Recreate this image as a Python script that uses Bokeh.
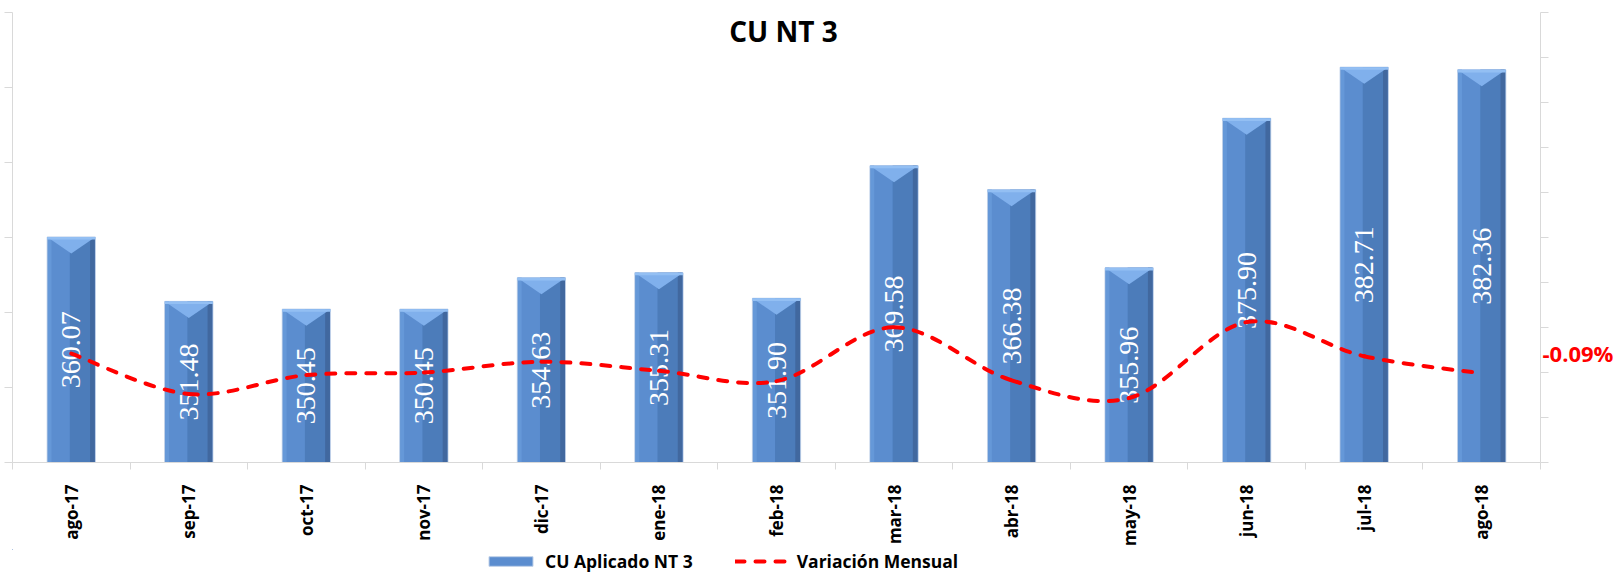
import math
from bokeh.plotting import figure
from bokeh.layouts import column
from bokeh.models import Range1d, LinearAxis, FixedTicker, Legend, LegendItem, Label
from bokeh.core.properties import value
from bokeh.embed import file_html
from bokeh.resources import INLINE

# ---------------- data ----------------
months = ["ago-17", "sep-17", "oct-17", "nov-17", "dic-17", "ene-18", "feb-18",
          "mar-18", "abr-18", "may-18", "jun-18", "jul-18", "ago-18"]
cu_nt3 = [360.07, 351.48, 350.45, 350.45, 354.63, 355.31, 351.90,
          369.58, 366.38, 355.96, 375.90, 382.71, 382.36]
bar_labels = ["360.07", "351.48", "350.45", "350.45", "354.63", "355.31", "351.90",
              "369.58", "366.38", "355.96", "375.90", "382.71", "382.36"]
variacion = [2.1, -2.39, -0.29, 0.00, 1.19, 0.19, -0.96,
             5.02, -0.87, -2.84, 5.60, 1.81, -0.09]   # percent
last_label = "-0.09%"
left_ticks = [330, 340, 350, 360, 370, 380, 390]
right_ticks = [-10, -5, 0, 5, 10, 15, 20, 25, 30, 35, 40]
title_text = "CU NT 3"
bar_name = "CU Aplicado NT 3"
line_name = "Variación Mensual"

Y_MIN, Y_MAX = left_ticks[0], left_ticks[-1]
P_MIN, P_MAX = right_ticks[0], right_ticks[-1]

AXIS_COL = "#d9d9d9"
FONT = "Open Sans"
BAR_FILL = "#5b8dcf"
BAR_EDGE = "#bfd0e8"
LINE_COL = "#ff0000"
MAIN_H, LEG_H = 549, 24
BORDER_B = 82
FRAME_H = MAIN_H - 12 - BORDER_B

xs = list(range(len(months)))

p = figure(width=1617, height=MAIN_H, x_range=Range1d(-0.5, len(months) - 0.5),
           y_range=Range1d(Y_MIN, Y_MAX), output_backend="svg", toolbar_location=None,
           min_border_left=12, min_border_top=12, min_border_right=77,
           min_border_bottom=BORDER_B)
p.extra_y_ranges = {"pct": Range1d(P_MIN, P_MAX)}
p.outline_line_color = None
p.xgrid.visible = False
p.ygrid.visible = False
p.background_fill_color = "white"
p.border_fill_color = "white"

# x axis
xa = p.xaxis[0]
xa.ticker = FixedTicker(ticks=xs, minor_ticks=[i - 0.5 for i in range(len(months) + 1)])
xa.major_label_overrides = {i: m for i, m in enumerate(months)}
xa.major_label_orientation = math.pi / 2
xa.major_tick_out = 0
xa.major_tick_in = 0
xa.minor_tick_out = 7
xa.minor_tick_in = 0
xa.minor_tick_line_color = AXIS_COL
xa.axis_line_color = AXIS_COL
xa.major_label_standoff = 15
xa.major_label_text_font = FONT
xa.major_label_text_font_style = "bold"
xa.major_label_text_font_size = "17px"
xa.major_label_text_color = "black"

# left axis (no labels)
ya = p.yaxis[0]
ya.ticker = FixedTicker(ticks=left_ticks)
ya.major_label_overrides = {t: "" for t in left_ticks}
ya.major_label_standoff = 0
ya.major_tick_out = 8
ya.major_tick_in = 0
ya.minor_tick_out = 0
ya.minor_tick_in = 0
ya.major_tick_line_color = AXIS_COL
ya.axis_line_color = AXIS_COL

# right axis: gray tick marks + the data label of the last point of the line
label_pos = variacion[-1] + 21 * (P_MAX - P_MIN) / FRAME_H
ra = LinearAxis(y_range_name="pct", ticker=FixedTicker(ticks=[label_pos], minor_ticks=right_ticks))
ra.major_label_overrides = {label_pos: last_label}
ra.major_label_standoff = -6
ra.major_tick_out = 0
ra.major_tick_in = 0
ra.minor_tick_out = 8
ra.minor_tick_in = 0
ra.minor_tick_line_color = AXIS_COL
ra.axis_line_color = AXIS_COL
ra.major_label_text_font = FONT
ra.major_label_text_font_style = "bold"
ra.major_label_text_font_size = "22px"
ra.major_label_text_color = LINE_COL
p.add_layout(ra, "right")

# ---------------- bars ----------------
W = 0.41
p.vbar(x=xs, top=cu_nt3, bottom=Y_MIN, width=W,
       fill_color=BAR_FILL, line_color=BAR_EDGE, line_width=1)
p.vbar(x=[x + W * 0.22 for x in xs], top=cu_nt3, bottom=Y_MIN, width=W * 0.5,
       fill_color="#4c7cba", line_color=None)
p.vbar(x=[x + W * 0.44 for x in xs], top=cu_nt3, bottom=Y_MIN, width=W * 0.1,
       fill_color="#41689f", line_color=None)
p.vbar(x=[x - W * 0.45 for x in xs], top=cu_nt3, bottom=Y_MIN, width=W * 0.08,
       fill_color="#6598d8", line_color=None)
# top bevel (V shape)
depth = 2.2
tri_xs = [[x - W / 2, x + W / 2, x] for x in xs]
tri_ys = [[v, v, v - depth] for v in cu_nt3]
p.patches(tri_xs, tri_ys, fill_color="#80b0ec", line_color=None)
p.vbar(x=xs, top=cu_nt3, bottom=[v - 0.35 for v in cu_nt3], width=W,
       fill_color="#93bff3", line_color=None)

# value labels inside bars
p.text(x=xs, y=[(Y_MIN + v) / 2 for v in cu_nt3], text=bar_labels, angle=math.pi / 2,
       text_align="center", text_baseline="middle", text_color="white",
       text_font=value("Liberation Sans Narrow"), text_font_size="28px")

# ---------------- smoothed line ----------------
n = len(variacion)
x0, y0, x1, y1, cx0, cy0, cx1, cy1 = [], [], [], [], [], [], [], []
for i in range(n - 1):
    a = max(i - 1, 0)
    b = min(i + 2, n - 1)
    x0.append(xs[i]); y0.append(variacion[i])
    x1.append(xs[i + 1]); y1.append(variacion[i + 1])
    cx0.append(xs[i] + (xs[i + 1] - xs[a]) / 6)
    cy0.append(variacion[i] + (variacion[i + 1] - variacion[a]) / 6)
    cx1.append(xs[i + 1] - (xs[b] - xs[i]) / 6)
    cy1.append(variacion[i + 1] - (variacion[b] - variacion[i]) / 6)
p.bezier(x0=x0, y0=y0, x1=x1, y1=y1, cx0=cx0, cy0=cy0, cx1=cx1, cy1=cy1,
         line_color=LINE_COL, line_width=4, line_dash="9 11", line_cap="round",
         y_range_name="pct")

# title
p.add_layout(Label(x=(xs[0] + xs[-1]) / 2, y=FRAME_H - 23, y_units="screen", x_offset=7,
                   text=title_text, text_font=FONT, text_font_style="bold",
                   text_font_size="28px", text_align="center", text_baseline="middle",
                   text_color="black"))

# ---------------- legend strip ----------------
# same series drawn out of view, only so that the legend has its glyphs
lg = figure(width=1617, height=LEG_H, x_range=Range1d(100, 101), y_range=Range1d(0, 1),
            x_axis_type=None, y_axis_type=None, output_backend="svg", toolbar_location=None,
            min_border=0)
lg.outline_line_color = None
lg.xgrid.visible = False
lg.ygrid.visible = False
lg.background_fill_color = "white"
lg.border_fill_color = "white"
leg_bar = lg.vbar(x=xs, top=cu_nt3, bottom=Y_MIN, width=W, fill_color=BAR_FILL,
                  line_color=BAR_EDGE)
leg_line = lg.line(x=xs, y=variacion, line_color=LINE_COL, line_width=4, line_dash="9 11",
                   line_cap="round")
legend = Legend(items=[LegendItem(label=bar_name, renderers=[leg_bar]),
                       LegendItem(label=line_name, renderers=[leg_line])],
                orientation="horizontal", location=(471, 0),
                border_line_color=None, background_fill_alpha=0,
                glyph_width=55, glyph_height=12, label_standoff=7, spacing=42,
                padding=0, margin=0,
                label_text_font=FONT, label_text_font_style="bold",
                label_text_font_size="17.5px", label_text_color="black")
lg.add_layout(legend)

open("out.html", "w").write(file_html(column(p, lg), INLINE))
